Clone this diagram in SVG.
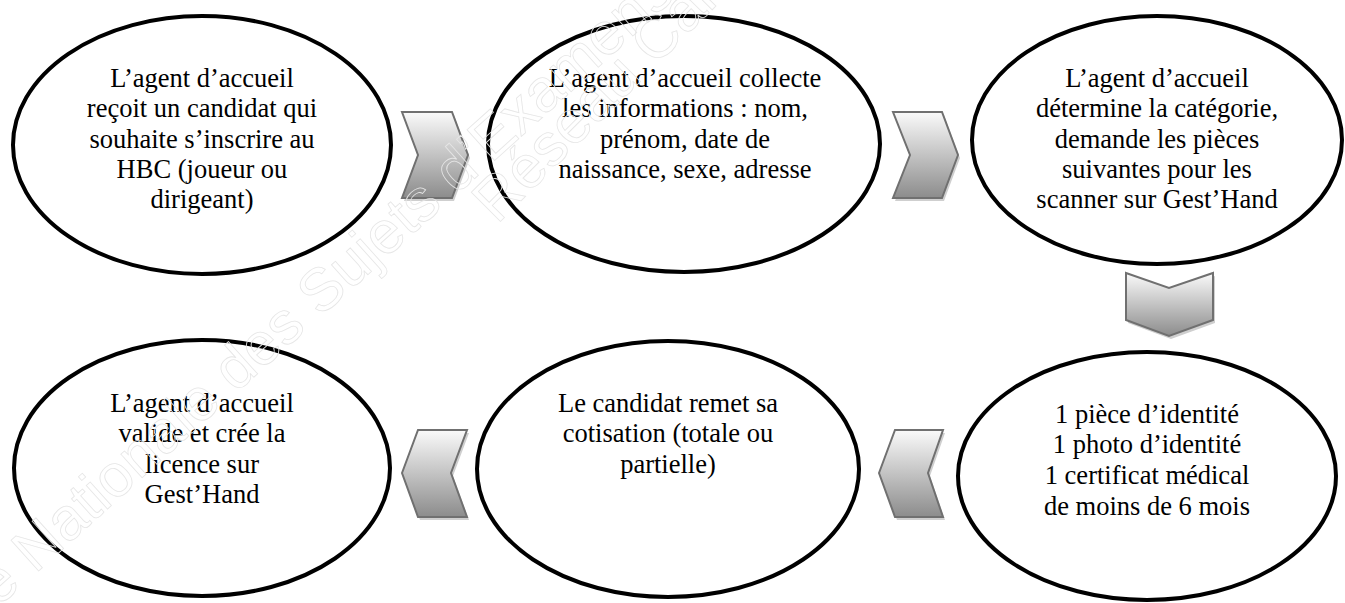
<svg xmlns="http://www.w3.org/2000/svg" width="1345" height="603" viewBox="0 0 1345 603">
<style>
.node ellipse{fill:#fff;stroke:#000;stroke-width:4}
.node text{font-family:'Liberation Serif','Tinos','Times New Roman',Times,'DejaVu Serif',serif;font-size:26.5px;fill:#000;text-anchor:middle}
.chev{fill:url(#g);stroke:#707070;stroke-width:2;stroke-linejoin:miter}
.sh{fill:#cfcfcf;stroke:none}
.wm{font-family:'Liberation Sans',Arial,sans-serif;font-size:60px;fill:none;stroke:#e6e6e6;stroke-width:0.8}
</style>
<defs>
<linearGradient id="g" x1="0" y1="0" x2="0" y2="1">
<stop offset="0" stop-color="#fafafa"/>
<stop offset="1" stop-color="#8c8c8c"/>
</linearGradient>
</defs>
<g id="connectors">
<g id="arrow1">
<polygon class="sh" points="404,115 454,115 470,158 454,201 404,201 420,158"/>
<polygon class="chev" points="402,112 452,112 468,155 452,198 402,198 418,155"/>
</g>
<g id="arrow2">
<polygon class="sh" points="895,115 944,115 960,158 944,201 895,201 912,158"/>
<polygon class="chev" points="893,112 942,112 958,155 942,198 893,198 910,155"/>
</g>
<g id="arrow3">
<polygon class="sh" points="1128,276 1171,291 1215,276 1215,323 1171,339 1128,323"/>
<polygon class="chev" points="1126,273 1169,288 1213,273 1213,320 1169,336 1126,320"/>
</g>
<g id="arrow4">
<polygon class="sh" points="881,476 897,433 945,433 930,476 945,520 897,520"/>
<polygon class="chev" points="879,473 895,430 943,430 928,473 943,517 895,517"/>
</g>
<g id="arrow5">
<polygon class="sh" points="404,476 420,433 469,433 453,476 469,520 420,520"/>
<polygon class="chev" points="402,473 418,430 467,430 451,473 467,517 418,517"/>
</g>
</g>
<g id="n1" class="node">
<ellipse cx="202" cy="145" rx="189" ry="129"/>
<text x="202" y="87">L’agent d’accueil</text>
<text x="202" y="117">reçoit un candidat qui</text>
<text x="202" y="148">souhaite s’inscrire au</text>
<text x="202" y="178">HBC (joueur ou</text>
<text x="202" y="208">dirigeant)</text>
</g>
<g id="n2" class="node">
<ellipse cx="684" cy="144" rx="196" ry="128"/>
<text x="685" y="87">L’agent d’accueil collecte</text>
<text x="685" y="117">les informations : nom,</text>
<text x="685" y="148">prénom, date de</text>
<text x="685" y="178">naissance, sexe, adresse</text>
</g>
<g id="n3" class="node">
<ellipse cx="1157" cy="140" rx="185" ry="124"/>
<text x="1157" y="87">L’agent d’accueil</text>
<text x="1157" y="117">détermine la catégorie,</text>
<text x="1157" y="148">demande les pièces</text>
<text x="1157" y="178">suivantes pour les</text>
<text x="1157" y="208">scanner sur Gest’Hand</text>
</g>
<g id="n4" class="node">
<ellipse cx="202" cy="468" rx="188" ry="128"/>
<text x="202" y="412">L’agent d’accueil</text>
<text x="202" y="442">valide et crée la</text>
<text x="202" y="473">licence sur</text>
<text x="202" y="503">Gest’Hand</text>
</g>
<g id="n5" class="node">
<ellipse cx="668" cy="469" rx="191" ry="128"/>
<text x="668" y="412">Le candidat remet sa</text>
<text x="668" y="442">cotisation (totale ou</text>
<text x="668" y="473">partielle)</text>
</g>
<g id="n6" class="node">
<ellipse cx="1147" cy="476" rx="189" ry="124"/>
<text x="1147" y="423">1 pièce d’identité</text>
<text x="1147" y="453">1 photo d’identité</text>
<text x="1147" y="484">1 certificat médical</text>
<text x="1147" y="515">de moins de 6 mois</text>
</g>
<g id="watermark">
<text class="wm" transform="translate(-79,677) rotate(-42)">Base Nationale des Sujets d’Examens</text>
<text class="wm" transform="translate(497,225) rotate(-45)">Réseau Canopé</text>
</g>
</svg>
